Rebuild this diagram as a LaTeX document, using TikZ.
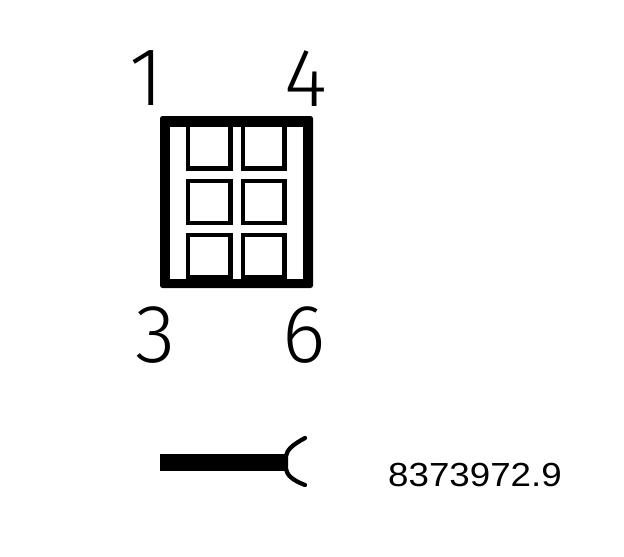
\documentclass[tikz,border=0pt]{standalone}
\usepackage{fontspec}
\setmainfont{Liberation Sans}
\newfontfamily\pinfont{Fira Sans}[UprightFont=* Light]
\tikzset{
    pinlabel/.style={inner sep=0pt, font=\pinfont\fontsize{47}{47}\selectfont},
    cavity/.style={line width=0.85mm},
    wire/.style={line width=3.3mm},
    plug/.style={line width=0.85mm, line cap=round}
}
\begin{document}
\begin{tikzpicture}[x=0.2mm, y=-0.2mm]
    \useasboundingbox (0,0) rectangle (624,556);

    % Housing
    \fill[rounded corners=0.5mm] (160,116) rectangle (313,288);
    \fill[white] (170,127) rectangle (303,279);

    % Cavities
    \foreach \xa/\xb in {188/230.5, 243/284.5} {
        \foreach \ya/\yb in {125/168.6, 181/223, 235/277} {
            \draw[cavity] (\xa,\ya) rectangle (\xb,\yb);
        }
    }

    % Pin numbers
    \node[pinlabel] (pinA) at (147,78.5) {1};
    \node[pinlabel] (pinD) at (305.5,78.5) {4};
    \node[pinlabel] (pinC) at (155.5,335.5) {3};
    \node[pinlabel] (pinF) at (304.5,335.5) {6};

    % Wire and socket symbol
    \coordinate (wireStart) at (160,462.5);
    \coordinate (wireEnd) at (287,462.5);
    \draw[wire] (wireStart) -- (wireEnd);
    \draw[plug] (305,438) .. controls (292,445) and (287,450) .. (286,456)
        -- (286,469) .. controls (287,475) and (292,480) .. (305,485);

    % Part number
    \node[inner sep=0pt, font=\fontsize{19}{19}\selectfont, xscale=1.1] (partNo) at (475,474.5) {8373972.9};
\end{tikzpicture}
\end{document}
